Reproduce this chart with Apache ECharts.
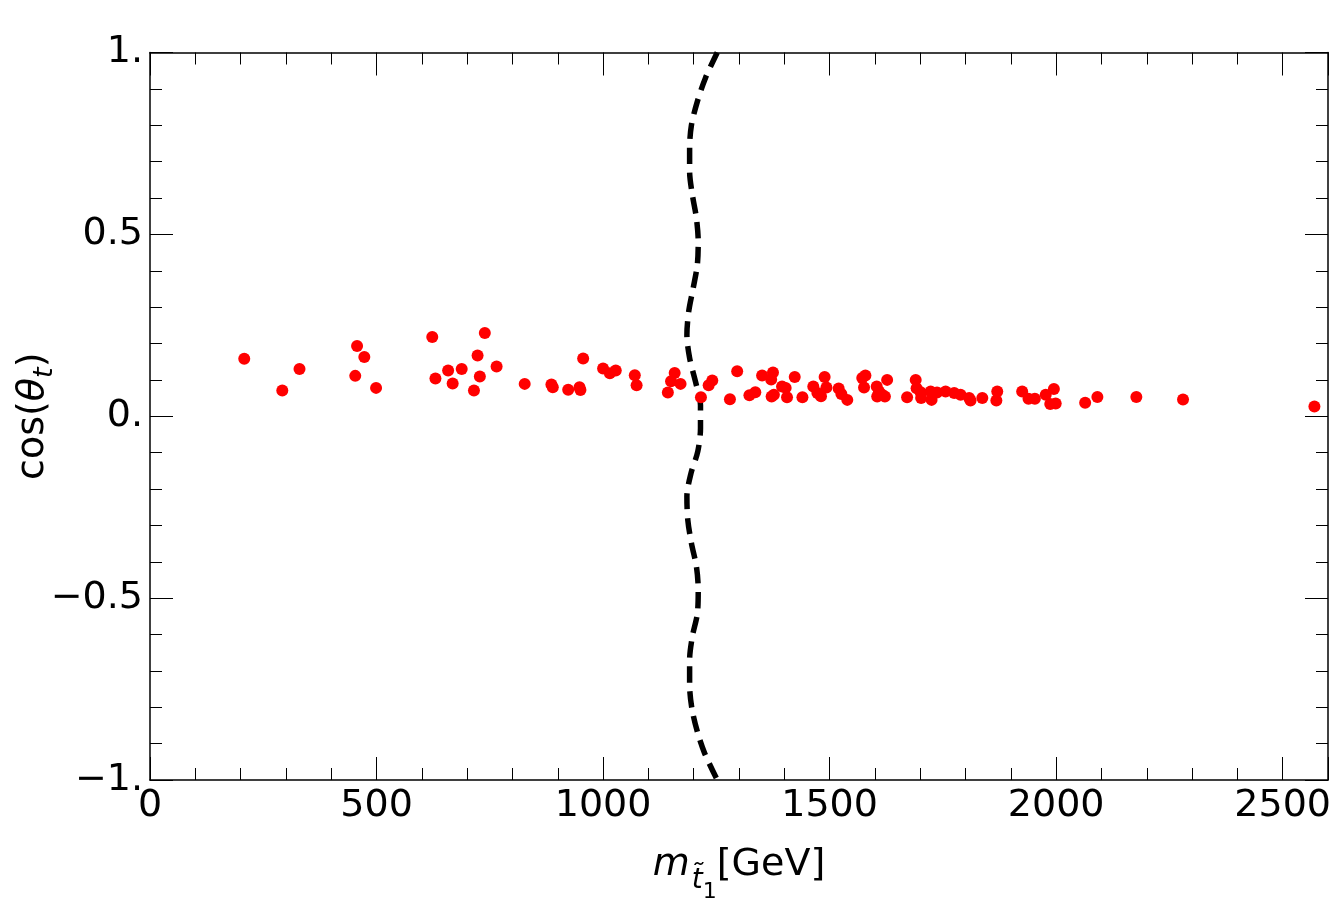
<!DOCTYPE html>
<html>
<head>
<meta charset="utf-8">
<title>cos(theta_t) vs stop mass</title>
<script src="https://cdn.jsdelivr.net/npm/echarts@6/dist/echarts.min.js"></script>
<style>
  html, body { margin: 0; padding: 0; background: #fff; }
  #chart { width: 1334px; height: 903px; }
</style>
</head>
<body>
<div id="chart"></div>
<script>
// scan points: stop mass [GeV] and cos(theta_t)
var stopMass = [208, 292, 330, 457, 473, 453, 499, 623, 739, 723, 765, 630, 658, 688, 668, 728, 715,
  827, 886, 889, 923, 948, 950, 956, 1000, 1015, 1028, 1070, 1074, 1143, 1150, 1158, 1171,
  1216, 1233, 1241, 1280, 1296, 1323, 1336, 1351, 1375, 1371, 1377, 1372, 1395, 1403, 1406,
  1423, 1440, 1464, 1473, 1481, 1489, 1493, 1520, 1526, 1539, 1576, 1579, 1572, 1604, 1609,
  1616, 1627, 1605, 1622, 1671, 1690, 1692, 1701, 1702, 1723, 1725, 1737, 1756, 1775, 1789,
  1808, 1811, 1837, 1870, 1868, 1925, 1939, 1953, 1977, 1995, 1987, 1999, 2064, 2091, 2177,
  2280, 2570];
var stopCos = [0.158, 0.071, 0.130, 0.193, 0.163, 0.111, 0.078, 0.218, 0.229, 0.167, 0.137, 0.104, 0.126, 0.130, 0.090, 0.109, 0.071,
  0.089, 0.087, 0.080, 0.073, 0.080, 0.072, 0.159, 0.131, 0.118, 0.126, 0.113, 0.085, 0.065, 0.096, 0.119, 0.089,
  0.052, 0.085, 0.098, 0.047, 0.124, 0.058, 0.066, 0.112, 0.120, 0.101, 0.059, 0.054, 0.082, 0.078, 0.052,
  0.108, 0.052, 0.082, 0.064, 0.055, 0.108, 0.079, 0.076, 0.061, 0.045, 0.079, 0.112, 0.105, 0.082, 0.068,
  0.059, 0.100, 0.054, 0.054, 0.052, 0.100, 0.077, 0.066, 0.050, 0.068, 0.045, 0.065, 0.068, 0.064, 0.059,
  0.050, 0.043, 0.050, 0.068, 0.043, 0.068, 0.048, 0.048, 0.059, 0.075, 0.034, 0.035, 0.037, 0.053, 0.053,
  0.046, 0.027];

// dashed bound
var boundMass = [1252, 1226, 1208, 1195, 1191, 1191, 1197, 1206, 1210, 1208, 1199, 1189, 1185, 1191, 1204, 1215,
  1215, 1209, 1194, 1185, 1187, 1195, 1206, 1210, 1208, 1197, 1191, 1191, 1196, 1208, 1224, 1252];
var boundCos = [1.0, 0.93, 0.865, 0.80, 0.738, 0.673, 0.609, 0.545, 0.48, 0.416, 0.353, 0.288, 0.224, 0.16, 0.095, 0.031,
  -0.033, -0.097, -0.157, -0.221, -0.285, -0.349, -0.413, -0.477, -0.543, -0.606, -0.670, -0.739, -0.803, -0.867, -0.926, -1.0];

var xTickValues = [0, 500, 1000, 1500, 2000, 2500];
var xTickLabels = ['0', '500', '1000', '1500', '2000', '2500'];
var yTickValues = [-1, -0.5, 0, 0.5, 1];
var yTickLabels = ['\u22121.', '\u22120.5', '0.', '0.5', '1.'];

var font = 'DejaVu Sans';

function pickLabel(vals, labels) {
  return function (v) {
    for (var i = 0; i < vals.length; i++) {
      if (Math.abs(vals[i] - v) < 1e-9) return labels[i];
    }
    return '';
  };
}

var points = stopMass.map(function (m, i) { return [m, stopCos[i]]; });
var bound = boundMass.map(function (m, i) { return [m, boundCos[i]]; });

var chart = echarts.init(document.getElementById('chart'), null, { renderer: 'canvas' });

function frameAxis(extra) {
  var base = {
    axisLine: { show: true, onZero: false, lineStyle: { color: '#000', width: 1.5 } },
    axisTick: { show: true, inside: true, length: 23, lineStyle: { color: '#000', width: 1 } },
    minorTick: { show: true, splitNumber: 5, length: 12, lineStyle: { color: '#000', width: 1 } },
    splitLine: { show: false },
    minorSplitLine: { show: false }
  };
  return Object.assign(base, extra);
}

var option = {
  backgroundColor: '#fff',
  animation: false,
  textStyle: { fontFamily: font },
  grid: { left: 150, right: 6, top: 52.5, bottom: 123, containLabel: false, outerBoundsMode: 'none' },
  xAxis: [
    frameAxis({
      type: 'value', position: 'bottom', min: 0, max: 2600, interval: 500,
      axisLabel: { show: true, margin: 7, fontSize: 38, color: '#000', fontFamily: font,
        showMinLabel: true, showMaxLabel: false, formatter: pickLabel(xTickValues, xTickLabels) },
      name: '{m|m}{t|t\u0303}{one|1}{g|[GeV]}',
      nameLocation: 'middle',
      nameGap: 66,
      nameMoveOverlap: false,
      nameTextStyle: {
        color: '#000', fontFamily: font, fontSize: 38,
        rich: {
          m: { fontSize: 38, fontStyle: 'italic', fontFamily: font, color: '#000', lineHeight: 38, verticalAlign: 'top' },
          t: { fontSize: 28, fontStyle: 'italic', fontFamily: font, color: '#000', lineHeight: 28, verticalAlign: 'top', padding: [21, 0, 0, 2] },
          one: { fontSize: 22, fontFamily: font, color: '#000', lineHeight: 22, verticalAlign: 'top', padding: [35, 0, 0, 0] },
          g: { fontSize: 38, fontFamily: font, color: '#000', lineHeight: 38, verticalAlign: 'top' }
        }
      }
    }),
    frameAxis({
      type: 'value', position: 'top', min: 0, max: 2600, interval: 500,
      axisLabel: { show: false }
    })
  ],
  yAxis: [
    frameAxis({
      type: 'value', position: 'left', min: -1, max: 1, interval: 0.5,
      axisLabel: { show: true, margin: 7, fontSize: 38, color: '#000', fontFamily: font,
        showMinLabel: true, showMaxLabel: true, formatter: pickLabel(yTickValues, yTickLabels) },
      name: '{n|cos(}{th|\u03b8}{t|t}{n|)}',
      nameLocation: 'middle',
      nameRotate: 90,
      nameGap: 98,
      nameMoveOverlap: false,
      nameTextStyle: {
        color: '#000', fontFamily: font, fontSize: 38,
        rich: {
          n: { fontSize: 38, fontFamily: font, color: '#000', lineHeight: 38, verticalAlign: 'top' },
          th: { fontSize: 38, fontStyle: 'italic', fontFamily: font, color: '#000', lineHeight: 38, verticalAlign: 'top' },
          t: { fontSize: 27, fontStyle: 'italic', fontFamily: font, color: '#000', lineHeight: 27, verticalAlign: 'top', padding: [17, 0, 0, 0] }
        }
      }
    }),
    frameAxis({
      type: 'value', position: 'right', min: -1, max: 1, interval: 0.5,
      axisLabel: { show: false }
    })
  ],
  series: [
    {
      type: 'line',
      name: 'bound',
      data: bound,
      xAxisIndex: 0, yAxisIndex: 0,
      showSymbol: false,
      smooth: 0.3,
      z: 1,
      lineStyle: { color: '#000', width: 5.5, type: [16, 9], cap: 'butt' }
    },
    {
      type: 'scatter',
      name: 'points',
      data: points,
      xAxisIndex: 0, yAxisIndex: 0,
      symbol: 'circle',
      symbolSize: 12,
      z: 3,
      itemStyle: { color: '#ff0000', opacity: 1 }
    }
  ]
};

chart.setOption(option);
</script>
</body>
</html>
